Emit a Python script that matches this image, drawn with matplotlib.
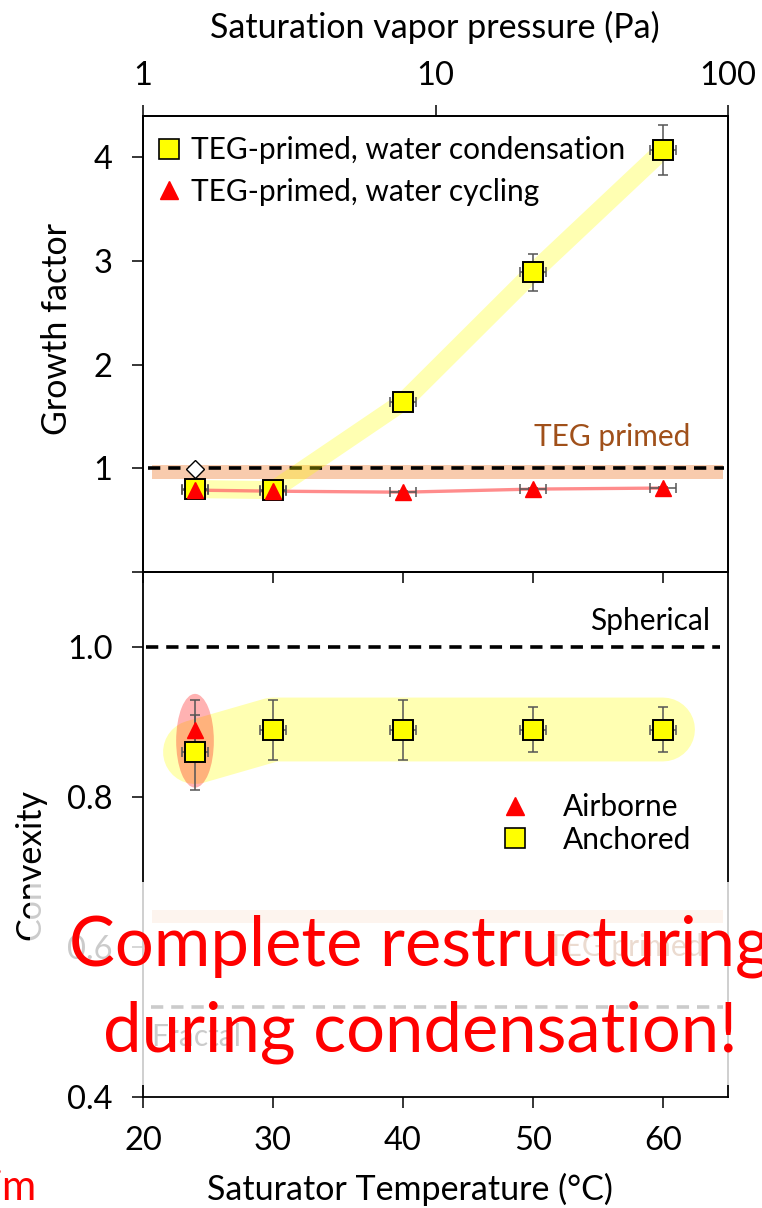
import matplotlib
matplotlib.use("Agg")
import matplotlib.pyplot as plt
from matplotlib.lines import Line2D
from matplotlib.patches import Ellipse, Rectangle
from matplotlib.ticker import NullLocator, FixedFormatter, FormatStrFormatter

plt.rcParams['font.family'] = ['Lato', 'DejaVu Sans']

# saturator temperature (°C) and its uncertainty
temp = [24, 30, 40, 50, 60]
temp_err = [1, 1, 1, 1, 1]

# growth factor of TEG-primed aggregates
gf_condensation = [0.80, 0.79, 1.64, 2.89, 4.07]
gf_condensation_err = [0.03, 0.03, 0.05, 0.18, 0.24]
gf_cycling = [0.79, 0.78, 0.77, 0.80, 0.81]
gf_cycling_err = [0.01, 0.01, 0.01, 0.01, 0.01]
gf_primed_temp = [24]
gf_primed = [0.99]
gf_primed_band = [0.90, 1.035]

# convexity
conv_anchored = [0.86, 0.89, 0.89, 0.89, 0.89]
conv_anchored_err = [0.05, 0.04, 0.04, 0.03, 0.03]
conv_airborne_temp = [24]
conv_airborne = [0.89]
conv_airborne_err = [0.04]
conv_primed_band = [0.632, 0.649]
conv_spherical = 1.0
conv_fractal = 0.52

# top axis: saturation vapour pressure
vp_ticks = [1, 10, 100]
vp_labels = ['1', '10', '100']

t_ticks = [20, 30, 40, 50, 60]
gf_ticks = [0, 1, 2, 3, 4]
gf_labels = ['', '1', '2', '3', '4']
conv_ticks = [0.4, 0.6, 0.8, 1.0]

W, H = 762, 1208
YELLOW = '#FFFF00'
ORANGE = '#F8CBAD'
BROWN = '#A0501A'
ERR = '#555555'
FS_TICK = 23.5
FS_LABEL = 24.5
FS_TEXT = 21.5


def px_box(x0, y0, x1, y1):
    return [x0 / W, 1 - y1 / H, (x1 - x0) / W, (y1 - y0) / H]


def style_axes(ax):
    for s in ax.spines.values():
        s.set_linewidth(1.3)
    ax.tick_params(direction='out', length=8, width=1.1, labelsize=FS_TICK)
    ax.tick_params(axis='y', pad=14)
    ax.tick_params(axis='x', pad=13)


fig = plt.figure(figsize=(W / 100, H / 100), dpi=100)
ax1 = fig.add_axes(px_box(143, 116, 728, 572))
ax2 = fig.add_axes(px_box(143, 572, 728, 1097))
ax2.patch.set_visible(False)

# ---- growth factor panel ----
style_axes(ax1)
ax1.set_xlim(20, 65)
ax1.set_ylim(0, 4.4)
ax1.set_xticks(t_ticks)
ax1.tick_params(axis='x', labelbottom=False)
ax1.set_yticks(gf_ticks)
ax1.set_yticklabels(gf_labels)

ax1.fill_between([20.7, 64.6], gf_primed_band[0], gf_primed_band[1],
                 color=ORANGE, lw=0, zorder=1)
ax1.plot([20.4, 64.7], [1, 1], color='black', lw=2.6, dashes=(3.4, 2.2), zorder=2)
ax1.plot(temp, gf_condensation, color=YELLOW, alpha=0.3, lw=13,
         solid_capstyle='butt', solid_joinstyle='round', zorder=2)
ax1.plot(temp, gf_cycling, color='#FF7070', alpha=0.8, lw=2.4, zorder=3)
ax1.errorbar(temp, gf_condensation, yerr=gf_condensation_err, xerr=temp_err,
             fmt='none', ecolor=ERR, elinewidth=1.1, capsize=3.5, capthick=1.1, zorder=4)
ax1.errorbar(temp, gf_cycling, yerr=gf_cycling_err, xerr=temp_err,
             fmt='none', ecolor=ERR, elinewidth=1.1, capsize=3.5, capthick=1.1, zorder=4)
ax1.plot(temp, gf_condensation, 's', ms=15, mfc=YELLOW, mec='black', mew=1.4, zorder=5)
ax1.plot(temp, gf_cycling, '^', ms=12, color='red', zorder=6)
ax1.plot(gf_primed_temp, gf_primed, 'D', ms=9, mfc='white', mec='black', mew=1, zorder=6)
ax1.text(62.1, 1.30, 'TEG primed', ha='right', va='center', color=BROWN, fontsize=FS_TEXT)

leg_handles = [
    Line2D([], [], ls='none', marker='s', ms=14, mfc=YELLOW, mec='black', mew=1.2),
    Line2D([], [], ls='none', marker='^', ms=13, color='red'),
]
ax1.legend(leg_handles, ['TEG-primed, water condensation', 'TEG-primed, water cycling'],
           loc='upper left', bbox_to_anchor=(-0.017, 1.005), frameon=False, fontsize=FS_TEXT,
           handlelength=0.9, handletextpad=0.3, labelspacing=0.45, borderaxespad=0.35)

ax_top = ax1.twiny()
ax_top.set_xscale('log')
ax_top.set_xlim(1, 100)
ax_top.set_xticks(vp_ticks)
ax_top.xaxis.set_major_formatter(FixedFormatter(vp_labels))
ax_top.xaxis.set_minor_locator(NullLocator())
for s in ax_top.spines.values():
    s.set_linewidth(1.3)
ax_top.tick_params(axis='x', direction='out', length=8, width=1.1, labelsize=FS_TICK, pad=10)

# ---- convexity panel ----
style_axes(ax2)
ax2.set_xlim(20, 65)
ax2.set_ylim(0.4, 1.1)
ax2.set_xticks(t_ticks)
ax2.set_yticks(conv_ticks)
ax2.yaxis.set_major_formatter(FormatStrFormatter('%.1f'))

ax2.fill_between([20.7, 64.6], conv_primed_band[0], conv_primed_band[1],
                 color=ORANGE, lw=0, zorder=1)
ax2.text(63.1, 0.60, 'TEG primed', ha='right', va='center', color=BROWN, fontsize=FS_TEXT)
ax2.plot([20.2, 64.4], [conv_spherical] * 2, color='black', lw=2.6, dashes=(3.4, 2.2), zorder=2)
ax2.text(63.6, 1.035, 'Spherical', ha='right', va='center', fontsize=FS_TEXT)
ax2.plot([20.6, 64.6], [conv_fractal] * 2, color='black', lw=2.6, dashes=(3.4, 2.2), zorder=2)
ax2.text(20.6, 0.48, 'Fractal', ha='left', va='center', fontsize=FS_TEXT)

# highlight: anchored series and the airborne/anchored pair at 24 °C
ax2.plot(temp, conv_anchored, color=YELLOW, alpha=0.3, lw=46,
         solid_capstyle='round', solid_joinstyle='round', zorder=2)
lo = min(conv_anchored[0] - conv_anchored_err[0], conv_airborne[0] - conv_airborne_err[0])
hi = max(conv_anchored[0] + conv_anchored_err[0], conv_airborne[0] + conv_airborne_err[0])
ax2.add_patch(Ellipse((temp[0], (lo + hi) / 2 + 0.005), 2.9, hi - lo + 0.005,
                      facecolor='red', alpha=0.3, lw=0, zorder=3))

ax2.errorbar(temp, conv_anchored, yerr=conv_anchored_err, xerr=temp_err,
             fmt='none', ecolor=ERR, elinewidth=1.1, capsize=3.5, capthick=1.1, zorder=4)
ax2.errorbar(conv_airborne_temp, conv_airborne, yerr=conv_airborne_err,
             fmt='none', ecolor=ERR, elinewidth=1.1, capsize=3.5, capthick=1.1, zorder=4)
ax2.plot(temp, conv_anchored, 's', ms=15, mfc=YELLOW, mec='black', mew=1.4, zorder=5)
ax2.plot(conv_airborne_temp, conv_airborne, '^', ms=12, color='red', zorder=6)

leg2_handles = [
    Line2D([], [], ls='none', marker='^', ms=13, color='red'),
    Line2D([], [], ls='none', marker='s', ms=14, mfc=YELLOW, mec='black', mew=1.2),
]
ax2.legend(leg2_handles, ['Airborne', 'Anchored'], loc='upper left',
           bbox_to_anchor=(0.565, 0.63), frameon=False, fontsize=FS_TEXT,
           handlelength=1.0, handletextpad=1.1, labelspacing=0.15)

# axis titles
fig.text(435 / W, 1 - 27 / H, 'Saturation vapor pressure (Pa)', ha='center', va='center', fontsize=FS_LABEL)
fig.text(57 / W, 1 - 329 / H, 'Growth factor', rotation=90, ha='center', va='center', fontsize=FS_LABEL)
fig.text(30 / W, 1 - 865 / H, 'Convexity', rotation=90, ha='center', va='center', fontsize=FS_LABEL)
fig.text(410 / W, 1 - 1189 / H, 'Saturator Temperature (°C)', ha='center', va='center', fontsize=FS_LABEL)

# translucent cover over the lower part and the call-out on top of it
fig.add_artist(Rectangle((30 / W, 1 - 1085 / H), (W - 30) / W, (1085 - 882) / H,
                         transform=fig.transFigure, facecolor='white', alpha=0.8,
                         lw=0, zorder=10))
fig.text(420 / W, 1 - 965 / H, 'Complete restructuring', ha='center', va='baseline',
         color='red', fontsize=49.5, zorder=11)
fig.text(420 / W, 1 - 1052 / H, 'during condensation!', ha='center', va='baseline',
         color='red', fontsize=49.5, zorder=11)
fig.text(37 / W, 1 - 1200 / H, 'im', ha='right', va='baseline', color='red',
         fontsize=30, zorder=11)

fig.savefig('out.png', dpi=100)
